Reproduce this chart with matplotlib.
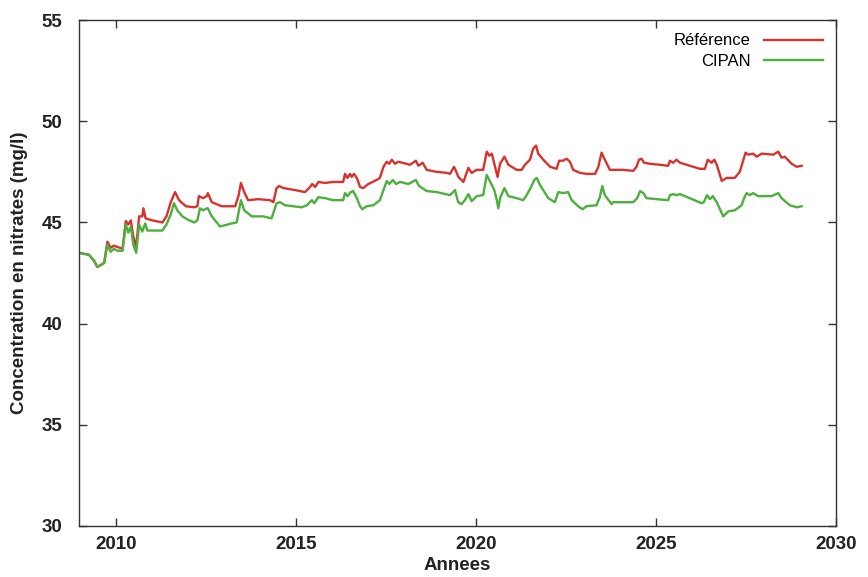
import matplotlib.pyplot as plt

# Nitrate concentration (mg/l), (year, value)
ref_years = [2008.97, 2009.25, 2009.39, 2009.48, 2009.58, 2009.67, 2009.76, 2009.85,
             2009.94, 2010.18, 2010.27, 2010.34, 2010.41, 2010.48, 2010.56, 2010.64,
             2010.73, 2010.76, 2010.82, 2011.01, 2011.29, 2011.40, 2011.52, 2011.64,
             2011.75, 2011.94, 2012.17, 2012.26, 2012.30, 2012.42, 2012.52, 2012.55,
             2012.66, 2012.94, 2013.31, 2013.40, 2013.47, 2013.56, 2013.67, 2013.95,
             2014.28, 2014.37, 2014.46, 2014.53, 2014.65, 2014.97, 2015.25, 2015.39,
             2015.45, 2015.53, 2015.62, 2015.81, 2016.02, 2016.31, 2016.36, 2016.43,
             2016.50, 2016.55, 2016.61, 2016.69, 2016.78, 2016.87, 2017.01, 2017.24,
             2017.33, 2017.43, 2017.52, 2017.59, 2017.66, 2017.75, 2017.84, 2018.17,
             2018.33, 2018.40, 2018.52, 2018.63, 2018.91, 2019.19, 2019.28, 2019.39,
             2019.49, 2019.51, 2019.65, 2019.79, 2019.88, 2020.02, 2020.20, 2020.30,
             2020.37, 2020.44, 2020.51, 2020.60, 2020.67, 2020.79, 2020.90, 2021.13,
             2021.27, 2021.36, 2021.50, 2021.59, 2021.67, 2021.73, 2021.87, 2022.06,
             2022.24, 2022.31, 2022.42, 2022.52, 2022.61, 2022.70, 2022.89, 2023.07,
             2023.31, 2023.40, 2023.49, 2023.58, 2023.72, 2024.09, 2024.37, 2024.46,
             2024.53, 2024.60, 2024.67, 2024.83, 2025.11, 2025.34, 2025.39, 2025.48,
             2025.57, 2025.67, 2025.94, 2026.22, 2026.36, 2026.44, 2026.55, 2026.62,
             2026.69, 2026.83, 2026.96, 2027.19, 2027.33, 2027.43, 2027.49, 2027.56,
             2027.70, 2027.80, 2027.94, 2028.26, 2028.40, 2028.49, 2028.58, 2028.77,
             2028.91, 2029.05]
ref_values = [43.5, 43.4, 43.1, 42.8, 42.9, 43.0, 44.05, 43.75,
              43.85, 43.7, 45.07, 44.9, 45.1, 44.3, 43.8, 45.3,
              45.3, 45.7, 45.2, 45.1, 45.0, 45.3, 46.0, 46.5,
              46.1, 45.8, 45.75, 45.8, 46.3, 46.2, 46.3, 46.45,
              46.0, 45.8, 45.8, 46.3, 46.95, 46.5, 46.1, 46.15,
              46.1, 46.0, 46.7, 46.8, 46.7, 46.6, 46.5, 46.75,
              46.9, 46.75, 47.0, 46.95, 47.0, 47.0, 47.4, 47.2,
              47.4, 47.25, 47.4, 47.2, 46.75, 46.7, 46.9, 47.1,
              47.2, 47.75, 48.0, 47.9, 48.1, 47.9, 48.0, 47.85,
              48.05, 47.8, 47.95, 47.6, 47.5, 47.45, 47.4, 47.75,
              47.35, 47.25, 47.0, 47.7, 47.45, 47.6, 47.6, 48.5,
              48.3, 48.4, 47.9, 47.25, 47.9, 48.25, 47.85, 47.6,
              47.6, 47.85, 48.1, 48.65, 48.8, 48.4, 48.1, 47.75,
              47.65, 48.05, 48.05, 48.15, 48.0, 47.6, 47.45, 47.4,
              47.4, 47.75, 48.45, 48.1, 47.6, 47.6, 47.55, 47.75,
              48.1, 48.15, 47.95, 47.9, 47.85, 47.8, 48.05, 47.95,
              48.1, 47.95, 47.8, 47.65, 47.65, 48.1, 47.95, 48.1,
              47.85, 47.05, 47.2, 47.2, 47.5, 48.1, 48.45, 48.35,
              48.4, 48.25, 48.4, 48.35, 48.5, 48.2, 48.25, 47.9,
              47.75, 47.8]

cipan_years = [2008.97, 2009.25, 2009.39, 2009.48, 2009.58, 2009.67, 2009.76, 2009.85,
               2009.94, 2010.04, 2010.18, 2010.27, 2010.34, 2010.41, 2010.48, 2010.56,
               2010.64, 2010.73, 2010.81, 2010.87, 2011.10, 2011.29, 2011.40, 2011.52,
               2011.61, 2011.70, 2011.84, 2012.03, 2012.17, 2012.26, 2012.33, 2012.42,
               2012.52, 2012.55, 2012.66, 2012.89, 2013.21, 2013.35, 2013.47, 2013.56,
               2013.77, 2014.09, 2014.32, 2014.46, 2014.56, 2014.69, 2015.16, 2015.30,
               2015.44, 2015.51, 2015.62, 2015.81, 2016.02, 2016.31, 2016.36, 2016.43,
               2016.52, 2016.59, 2016.69, 2016.78, 2016.84, 2016.96, 2017.15, 2017.33,
               2017.43, 2017.52, 2017.59, 2017.69, 2017.78, 2017.89, 2018.12, 2018.33,
               2018.42, 2018.63, 2018.91, 2019.28, 2019.42, 2019.49, 2019.51, 2019.60,
               2019.69, 2019.79, 2019.88, 2020.02, 2020.20, 2020.30, 2020.37, 2020.44,
               2020.51, 2020.58, 2020.62, 2020.67, 2020.79, 2020.90, 2021.13, 2021.31,
               2021.41, 2021.53, 2021.62, 2021.69, 2021.78, 2022.01, 2022.19, 2022.29,
               2022.42, 2022.56, 2022.66, 2022.84, 2022.96, 2023.07, 2023.35, 2023.44,
               2023.51, 2023.58, 2023.77, 2023.81, 2024.37, 2024.48, 2024.56, 2024.65,
               2024.74, 2025.02, 2025.34, 2025.39, 2025.48, 2025.57, 2025.67, 2025.94,
               2026.27, 2026.33, 2026.42, 2026.50, 2026.58, 2026.69, 2026.87, 2027.01,
               2027.19, 2027.38, 2027.45, 2027.52, 2027.61, 2027.70, 2027.84, 2028.21,
               2028.40, 2028.49, 2028.72, 2028.91, 2029.05]
cipan_values = [43.5, 43.4, 43.1, 42.8, 42.9, 43.0, 43.9, 43.55,
                43.7, 43.6, 43.6, 44.9, 44.5, 44.8, 43.9, 43.5,
                44.9, 44.55, 44.95, 44.6, 44.6, 44.6, 44.9, 45.4,
                45.95, 45.6, 45.3, 45.1, 45.0, 45.1, 45.7, 45.6,
                45.7, 45.7, 45.3, 44.8, 44.95, 45.0, 46.1, 45.6,
                45.3, 45.3, 45.2, 45.95, 46.0, 45.85, 45.75, 45.85,
                46.1, 45.95, 46.25, 46.2, 46.1, 46.1, 46.45, 46.3,
                46.5, 46.55, 46.2, 45.8, 45.65, 45.8, 45.85, 46.1,
                46.6, 47.05, 46.9, 47.1, 46.9, 47.0, 46.9, 47.1,
                46.8, 46.55, 46.5, 46.35, 46.6, 46.1, 46.0, 45.9,
                46.1, 46.4, 46.05, 46.3, 46.35, 47.35, 47.1, 46.85,
                46.6, 46.1, 45.7, 46.2, 46.7, 46.3, 46.2, 46.1,
                46.35, 46.75, 47.1, 47.2, 46.85, 46.2, 46.0, 46.5,
                46.45, 46.5, 46.1, 45.8, 45.65, 45.8, 45.85, 46.25,
                46.8, 46.35, 45.9, 46.0, 46.0, 46.2, 46.55, 46.45,
                46.2, 46.15, 46.1, 46.35, 46.4, 46.35, 46.4, 46.2,
                45.95, 46.0, 46.35, 46.15, 46.3, 46.0, 45.3, 45.55,
                45.6, 45.85, 46.2, 46.45, 46.35, 46.45, 46.3, 46.3,
                46.45, 46.2, 45.85, 45.75, 45.8]

x_ticks = [2010, 2015, 2020, 2025, 2030]
y_ticks = [30, 35, 40, 45, 50, 55]

plt.rcParams['font.family'] = ['Liberation Sans', 'DejaVu Sans']

fig = plt.figure(figsize=(8.68, 5.77), dpi=100)
ax = fig.add_axes([0.091, 0.0884, 0.872, 0.8768])

ax.plot(ref_years, ref_values, color='#d8322f', linewidth=1.7, label='Référence')
ax.plot(cipan_years, cipan_values, color='#4caf3e', linewidth=1.7, label='CIPAN')

ax.set_xlim(2008.97, 2030)
ax.set_ylim(30, 55)
ax.set_xticks(x_ticks)
ax.set_yticks(y_ticks)
ax.tick_params(direction='in', length=6, width=1, top=True, right=True,
               labelsize=13.5, colors='#333333')
ax.tick_params(axis='y', pad=12)
ax.tick_params(axis='x', pad=7)
for lbl in ax.get_xticklabels() + ax.get_yticklabels():
    lbl.set_fontweight('bold')
    lbl.set_color('#222222')
for sp in ax.spines.values():
    sp.set_color('#333333')
    sp.set_linewidth(1)

ax.set_xlabel('Annees', fontsize=13.5, fontweight='bold', color='#222222', labelpad=3)
ax.set_ylabel('Concentration en nitrates (mg/l)', fontsize=13.5, fontweight='bold',
              color='#222222', labelpad=10)

ax.legend(loc='upper right', frameon=False, markerfirst=False, fontsize=12,
          handlelength=3.5, handletextpad=0.8, labelspacing=0.35,
          borderaxespad=0.5, borderpad=0.3)

fig.savefig('out.png', dpi=100)
